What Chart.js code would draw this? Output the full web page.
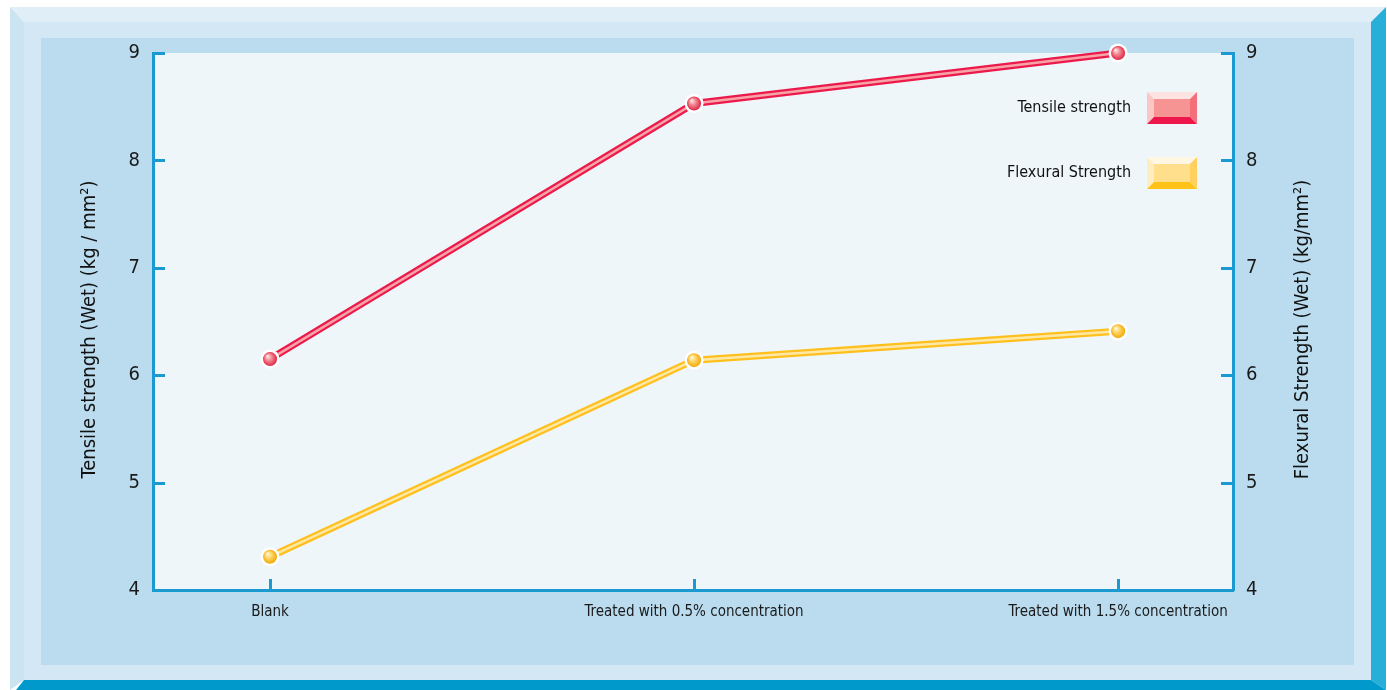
<!DOCTYPE html>
<html><head><meta charset="utf-8">
<script src="https://cdn.jsdelivr.net/npm/chart.js@4.4.0/dist/chart.umd.min.js"></script>
<style>html,body{margin:0;padding:0;background:#fff;}canvas{display:block;}</style>
</head><body>
<canvas id="c" width="1387" height="690"></canvas>
<script>
const categories = ['Blank', 'Treated with 0.5% concentration', 'Treated with 1.5% concentration'];
const tensileStrength = [6.15, 8.53, 9.0];
const flexuralStrength = [4.31, 6.14, 6.41];
const yTicks = [4, 5, 6, 7, 8, 9];
const leftTitle = 'Tensile strength (Wet) (kg / mm²)';
const rightTitle = 'Flexural Strength (Wet) (kg/mm²)';
const legendLabels = ['Tensile strength', 'Flexural Strength'];

const FONT = "'Liberation Sans Narrow','Arial Narrow','DejaVu Sans Condensed',sans-serif";
const AXIS = '#1a9ad0';
const xIdx = categories.map((_, i) => i);
const toXY = arr => arr.map((v, i) => ({x: xIdx[i], y: v}));

function poly(ctx, pts, c) {
  ctx.beginPath(); ctx.moveTo(pts[0][0], pts[0][1]);
  for (const p of pts.slice(1)) ctx.lineTo(p[0], p[1]);
  ctx.closePath(); ctx.fillStyle = c; ctx.fill();
}

const framePlugin = {
  id: 'frame',
  beforeDraw(chart) {
    const ctx = chart.ctx;
    ctx.save();
    ctx.fillStyle = '#ffffff'; ctx.fillRect(0, 0, 1387, 690);
    poly(ctx, [[10,7],[1386,7],[1371,22],[24,22]], '#dfeef7');
    poly(ctx, [[10,7],[24,22],[24,680],[10,690]], '#cbe4f1');
    poly(ctx, [[1371,22],[1386,7],[1386,690],[1371,680]], '#27afd9');
    poly(ctx, [[24,680],[1371,680],[1386,690],[16,690]], '#0099cc');
    ctx.fillStyle = '#d3e8f4'; ctx.fillRect(24, 22, 1347, 658);
    ctx.fillStyle = '#badcee'; ctx.fillRect(41, 38, 1313, 627);
    const a = chart.chartArea;
    ctx.fillStyle = '#eff6fa'; ctx.fillRect(a.left, a.top, a.right - a.left, a.bottom - a.top);
    ctx.restore();
  },
  afterDraw(chart) {
    const ctx = chart.ctx;
    const a = chart.chartArea;
    ctx.save();
    // inward ticks
    ctx.strokeStyle = AXIS; ctx.lineWidth = 3;
    const yl = chart.scales.y, yr = chart.scales.y2, xs = chart.scales.x;
    for (const v of yTicks) {
      const p = Math.round(yl.getPixelForValue(v)) + 0.5;
      ctx.beginPath(); ctx.moveTo(a.left, p); ctx.lineTo(a.left + 12, p); ctx.stroke();
      const q = Math.round(yr.getPixelForValue(v)) + 0.5;
      ctx.beginPath(); ctx.moveTo(a.right, q); ctx.lineTo(a.right - 12, q); ctx.stroke();
    }
    for (const i of xIdx) {
      const p = Math.round(xs.getPixelForValue(i)) + 0.5;
      ctx.beginPath(); ctx.moveTo(p, a.bottom); ctx.lineTo(p, a.bottom - 11); ctx.stroke();
    }
    // axis titles
    ctx.fillStyle = '#111';
    ctx.font = '20px ' + FONT;
    ctx.textAlign = 'center'; ctx.textBaseline = 'middle';
    const cy = (a.top + a.bottom) / 2 + 8;
    ctx.save(); ctx.translate(90, cy); ctx.rotate(-Math.PI / 2); ctx.fillText(leftTitle, 0, 0); ctx.restore();
    ctx.save(); ctx.translate(1303, cy); ctx.rotate(-Math.PI / 2); ctx.fillText(rightTitle, 0, 0); ctx.restore();
    // points (spheres)
    const sphere = (x, y, c0, c1, c2) => {
      ctx.beginPath(); ctx.arc(x, y, 9.5, 0, Math.PI * 2); ctx.fillStyle = '#ffffff'; ctx.fill();
      const g = ctx.createRadialGradient(x - 2.5, y - 3, 0.5, x, y, 7.5);
      g.addColorStop(0, c0); g.addColorStop(0.4, c1); g.addColorStop(1, c2);
      ctx.beginPath(); ctx.arc(x, y, 7, 0, Math.PI * 2); ctx.fillStyle = g; ctx.fill();
    };
    chart.getDatasetMeta(0).data.forEach(pt => sphere(pt.x, pt.y, '#fde4e4', '#f48a94', '#dd1c3e'));
    chart.getDatasetMeta(2).data.forEach(pt => sphere(pt.x, pt.y, '#fff7dc', '#ffd565', '#f0a500'));
    // legend
    const sw = [
      {y: 92, cols: ['#fde3e1', '#fbc6c4', '#f59492', '#f37079', '#ee174c']},
      {y: 157, cols: ['#fff6e4', '#ffecc0', '#ffde8c', '#ffd05e', '#ffc318']}
    ];
    ctx.font = '16px ' + FONT; ctx.textAlign = 'right'; ctx.textBaseline = 'middle';
    sw.forEach((s, i) => {
      const x = 1147, y = s.y, w = 50, h = 32, b = 7;
      poly(ctx, [[x,y],[x+w,y],[x+w-b,y+b],[x+b,y+b]], s.cols[0]);
      poly(ctx, [[x,y],[x+b,y+b],[x+b,y+h-b],[x,y+h]], s.cols[1]);
      poly(ctx, [[x+w,y],[x+w,y+h],[x+w-b,y+h-b],[x+w-b,y+b]], s.cols[3]);
      poly(ctx, [[x,y+h],[x+b,y+h-b],[x+w-b,y+h-b],[x+w,y+h]], s.cols[4]);
      ctx.fillStyle = s.cols[2]; ctx.fillRect(x + b, y + b, w - 2 * b, h - 2 * b);
      ctx.fillStyle = '#111';
      ctx.fillText(legendLabels[i], 1131, y + h / 2);
    });
    ctx.restore();
  }
};

const yScale = (pos, w) => ({
  type: 'linear', position: pos, min: 4, max: 9,
  afterBuildTicks: s => { s.ticks = yTicks.map(v => ({value: v})); },
  afterFit: s => { s.width = w; },
  grid: {display: false, drawTicks: false},
  border: {display: true, color: AXIS, width: 3},
  ticks: {font: {family: FONT, size: 20}, color: '#1a1a1a', padding: 13}
});

new Chart(document.getElementById('c'), {
  type: 'line',
  data: {
    datasets: [
      {data: toXY(tensileStrength), borderColor: '#ec1a4b', borderWidth: 7, pointRadius: 0, yAxisID: 'y', clip: false, order: 2},
      {data: toXY(tensileStrength), borderColor: '#f7a3a8', borderWidth: 2.5, pointRadius: 0, yAxisID: 'y', clip: false, order: 1},
      {data: toXY(flexuralStrength), borderColor: '#ffc01e', borderWidth: 7, pointRadius: 0, yAxisID: 'y2', clip: false, order: 2},
      {data: toXY(flexuralStrength), borderColor: '#ffe8a6', borderWidth: 2.5, pointRadius: 0, yAxisID: 'y2', clip: false, order: 1}
    ]
  },
  options: {
    responsive: false, animation: false,
    layout: {padding: {top: 53, left: 0, right: 0, bottom: 0}},
    plugins: {legend: {display: false}, tooltip: {enabled: false}},
    scales: {
      x: {
        type: 'linear', min: -0.276, max: 2.271,
        afterBuildTicks: s => { s.ticks = xIdx.map(v => ({value: v})); },
        afterFit: s => { s.height = 100; },
        grid: {display: false, drawTicks: false},
        border: {display: true, color: AXIS, width: 3},
        ticks: {font: {family: FONT, size: 15}, color: '#1a1a1a', padding: 13, maxRotation: 0, autoSkip: false,
          callback: v => categories[v] ?? ''}
      },
      y: yScale('left', 153),
      y2: yScale('right', 154)
    }
  },
  plugins: [framePlugin]
});
</script>
</body></html>
